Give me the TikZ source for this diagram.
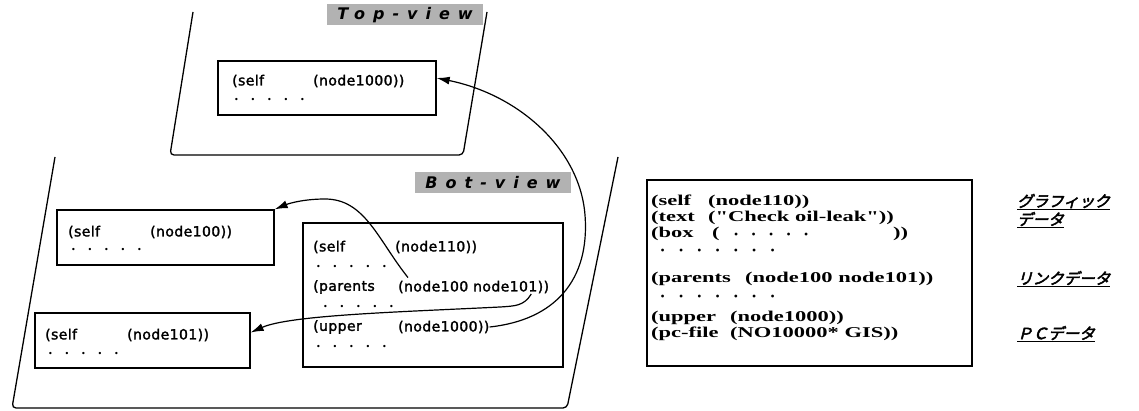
\documentclass[tikz,border=0pt]{standalone}
\usepackage{fontspec}
\usetikzlibrary{arrows.meta,calc}
\setmainfont{DejaVu Sans}
\newfontfamily\lsans[LetterSpace=3,FakeBold=1.8]{DejaVu Sans}
\newfontfamily\rserif[FakeStretch=1.5]{Liberation Serif}
\newfontfamily\vfont[LetterSpace=50]{DejaVu Sans}
\newfontfamily\jp[FakeSlant=0.25,FakeBold=3]{Noto Sans CJK JP}
\newfontfamily\dotfont{DejaVu Sans}
\newcommand\drow[2]{\foreach \i in {1,...,#1}{\makebox[#2][l]{\dotfont\fontsize{8}{8}\selectfont •}}}
\tikzset{
  box/.style={draw, line width=1.3pt, inner sep=0pt},
  lt/.style={anchor=west, inner sep=0pt, font=\lsans\fontsize{14}{16}\selectfont},
  rt/.style={anchor=west, inner sep=0pt, font=\rserif\bfseries\fontsize{15}{17}\selectfont},
  jt/.style={anchor=west, inner sep=0pt, font=\jp\fontsize{15.5}{17}\selectfont},
  vl/.style={fill=black!30, inner sep=0pt, minimum width=156pt, minimum height=21pt,
    font=\vfont\bfseries\itshape\fontsize{16}{18}\selectfont},
  plane/.style={line width=1.3pt, rounded corners=4pt},
  link/.style={line width=1.2pt, -{Latex[length=13pt,width=8pt]}},
}
\begin{document}
\begin{tikzpicture}[x=1pt,y=-1pt]
\useasboundingbox (0,0) rectangle (1139,411);
% top plane
\draw[plane] (193,12) -- (170,155) -- (463,155) -- (487,12);
\node[vl] (tv) at (405,15) {Top-view};
\node[box, minimum width=218pt, minimum height=54pt] (topbox) at (327,88) {};
\node[lt] (t1) at (232,81) {(self};
\node[lt] (t2) at (313,81) {(node1000))};
\node[lt] (t3) at (234,100) {\drow{5}{16.5pt}};
% bottom plane
\draw[plane] (55,157) -- (12,408) -- (567,408) -- (618,157);
\node[vl] (bv) at (493,183) {Bot-view};
% node100
\node[box, minimum width=217pt, minimum height=55pt] (b100) at (165.5,237.5) {};
\node[lt] (a1) at (68,232) {(self};
\node[lt] (a2) at (150,232) {(node100))};
\node[lt] (a3) at (71,250) {\drow{5}{16.5pt}};
% node101
\node[box, minimum width=215pt, minimum height=55pt] (b101) at (142.5,340.5) {};
\node[lt] (c1) at (45,335) {(self};
\node[lt] (c2) at (127,335) {(node101))};
\node[lt] (c3) at (48,354) {\drow{5}{16.5pt}};
% node110
\node[box, minimum width=260pt, minimum height=144pt] (b110) at (433,295) {};
\node[lt] (s1) at (313,247) {(self};
\node[lt] (s2) at (395,247) {(node110))};
\node[lt] (s3) at (316,267) {\drow{5}{16.5pt}};
\node[lt] (p1) at (313,287) {(parents};
\node[lt] (p2) at (398,287) {(node100 node101))};
\node[lt] (p3) at (323,307) {\drow{5}{16.5pt}};
\node[lt] (u1) at (313,327) {(upper};
\node[lt] (u2) at (398,327) {(node1000))};
\node[lt] (u3) at (316,347) {\drow{5}{16.5pt}};
% links
\draw[link] ($(p2.north west)+(10,-3)$) .. controls (378,240) and (365,199) .. (325,199)
  .. controls (305,199) and (290,203) .. (b100.north east);
\draw[link] ($(p2.east)+(-18,7)$) .. controls (524,306) and (515,306) .. (500,307)
  .. controls (400,312) and (290,315) .. ($(b101.east)+(0,-8)$);
\draw[link] (u2.east) .. controls (555,320) and (590,280) .. (585,215)
  .. controls (580,150) and (520,95) .. ($(topbox.east)+(0,-10)$);
% right box
\node[box, minimum width=325pt, minimum height=186pt] (rb) at (809.5,273) {};
\node[rt] (r1a) at (651,202) {(self};
\node[rt] (r1b) at (708,202) {(node110))};
\node[rt] (r2a) at (651,218) {(text};
\node[rt] (r2b) at (708,218) {("Check oil-leak"))};
\node[rt] (r3a) at (651,234) {(box};
\node[rt] (r3b) at (712,234) {(\hspace{14pt}\drow{5}{17.5pt}};
\node[rt] (r3c) at (893,234) {))};
\node[rt] (r4) at (660,251) {\drow{7}{18.3pt}};
\node[rt] (r5a) at (651,279) {(parents};
\node[rt] (r5b) at (745,279) {(node100 node101))};
\node[rt] (r6) at (660,297) {\drow{7}{18.3pt}};
\node[rt] (r7a) at (651,318) {(upper};
\node[rt] (r7b) at (730,318) {(node1000))};
\node[rt] (r8a) at (651,334) {(pc-file};
\node[rt] (r8b) at (730,334) {(NO10000* GIS))};
% japanese labels
\node[jt] (j1) at (1017,202) {\underline{グラフィック}};
\node[jt] (j2) at (1017,220) {\underline{データ}};
\node[jt] (j3) at (1017,279) {\underline{リンクデータ}};
\node[jt] (j4) at (1017,334) {\underline{ＰＣデータ}};
\end{tikzpicture}
\end{document}
